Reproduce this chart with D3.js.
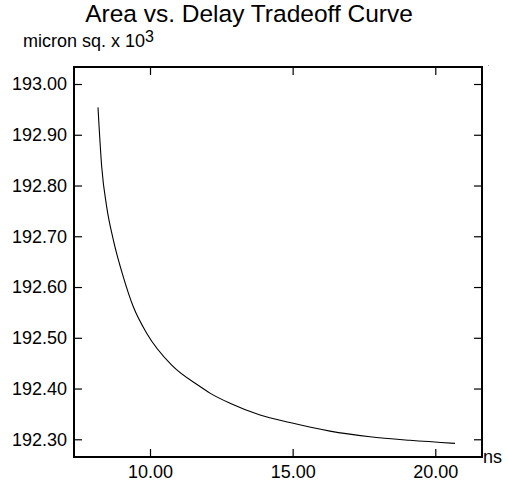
<!DOCTYPE html>
<html>
<head>
<meta charset="utf-8">
<script src="https://cdn.jsdelivr.net/npm/d3@7"></script>
<style>
  html, body { margin: 0; padding: 0; background: #fff; }
  svg { display: block; }
  text { font-family: "Liberation Sans", Arial, Helvetica, sans-serif; fill: #000; }
</style>
</head>
<body>
<svg id="chart" width="508" height="481"></svg>
<script>
// Data (delay in ns, area in micron sq. x 10^3)
const delay = [8.177, 8.307, 8.482, 8.714, 9.064, 9.415, 9.884, 10.761, 11.753, 12.103, 12.804, 13.856, 14.907, 16.309, 17.711, 19.113, 20.690];
const area  = [192.954, 192.837, 192.758, 192.693, 192.620, 192.561, 192.509, 192.446, 192.404, 192.391, 192.371, 192.348, 192.333, 192.316, 192.305, 192.298, 192.292];
const xTickValues = [10, 15, 20];
const yTickValues = [192.3, 192.4, 192.5, 192.6, 192.7, 192.8, 192.9, 193.0];
const titleText = "Area vs. Delay Tradeoff Curve";
const yUnitText = "micron sq. x 10";
const yUnitExp = "3";
const xUnitText = "ns";

const svg = d3.select("#chart");
const pLeft = 74, pRight = 482, pTop = 67, pBottom = 457;

const x = d3.scaleLinear().domain([7.336, 21.637]).range([pLeft, pRight]);
const y = d3.scaleLinear().domain([192.2651, 193.0335]).range([pBottom, pTop]);

const fmt = d3.format(".2f");

// Frame
svg.append("rect")
  .attr("x", pLeft).attr("y", pTop)
  .attr("width", pRight - pLeft).attr("height", pBottom - pTop)
  .attr("fill", "none").attr("stroke", "#000").attr("stroke-width", 1.3)
  .attr("shape-rendering", "crispEdges");

// Bottom axis (inward ticks) with labels
const xAxisB = d3.axisBottom(x).tickValues(xTickValues).tickSize(-8).tickPadding(8).tickFormat(fmt);
const gxb = svg.append("g").attr("transform", `translate(0,${pBottom})`).call(xAxisB);
// Top axis (inward ticks, no labels)
const xAxisT = d3.axisTop(x).tickValues(xTickValues).tickSize(-8).tickFormat("");
const gxt = svg.append("g").attr("transform", `translate(0,${pTop})`).call(xAxisT);
// Left axis
const yAxisL = d3.axisLeft(y).tickValues(yTickValues).tickSize(8).tickPadding(7).tickFormat(fmt);
const gyl = svg.append("g").attr("transform", `translate(${pLeft + 8},0)`).call(yAxisL);
// Right axis (inward ticks, no labels)
const yAxisR = d3.axisRight(y).tickValues(yTickValues).tickSize(-8).tickFormat("");
const gyr = svg.append("g").attr("transform", `translate(${pRight},0)`).call(yAxisR);

[gxb, gxt, gyl, gyr].forEach(g => {
  g.select(".domain").remove();
  g.selectAll(".tick line").attr("stroke", "#000").attr("stroke-width", 1.2);
  g.selectAll(".tick text")
    .attr("font-family", "'Liberation Sans', Arial, sans-serif")
    .attr("font-size", 18).attr("fill", "#000");
});
gyl.selectAll(".tick text").attr("x", -15);

// Curve
const line = d3.line()
  .x(d => x(d[0])).y(d => y(d[1]))
  .curve(d3.curveMonotoneX);
svg.append("path")
  .datum(delay.map((d, i) => [d, area[i]]))
  .attr("d", line)
  .attr("fill", "none").attr("stroke", "#000").attr("stroke-width", 1.1);

// Title
svg.append("text")
  .attr("x", 249).attr("y", 22)
  .attr("text-anchor", "middle").attr("font-size", 24.5)
  .text(titleText);

// Y unit label with superscript
const yu = svg.append("text").attr("x", 23).attr("y", 47).attr("font-size", 18);
yu.append("tspan").text(yUnitText);
yu.append("tspan").attr("dy", -5).attr("font-size", 16).text(yUnitExp);

// X unit label
svg.append("text")
  .attr("x", 483).attr("y", 463).attr("font-size", 18)
  .text(xUnitText);

// tiny corner dot
svg.append("rect").attr("x", 488).attr("y", 65).attr("width", 1).attr("height", 1).attr("fill", "#aaa");
</script>
</body>
</html>
